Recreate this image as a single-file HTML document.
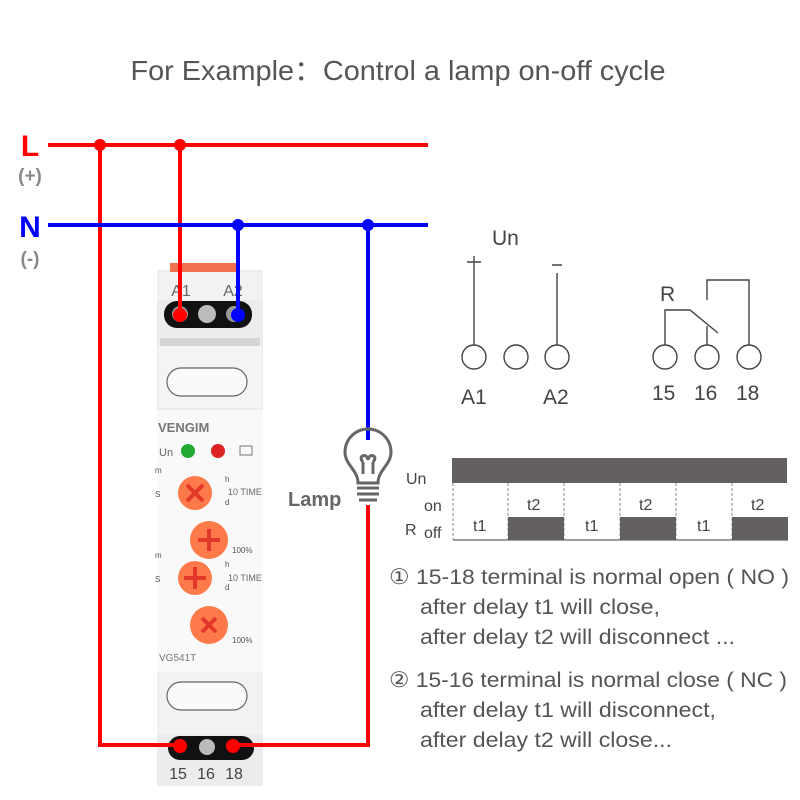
<!DOCTYPE html>
<html><head><meta charset="utf-8"><style>
body{margin:0;background:#fff;width:800px;height:800px;overflow:hidden}
svg{display:block}
text{font-family:"Liberation Sans",sans-serif}
</style></head><body>
<svg width="800" height="800" viewBox="0 0 800 800">
<text x="398" y="80" font-size="28" fill="#555" text-anchor="middle" textLength="535" lengthAdjust="spacingAndGlyphs">For Example：Control a lamp on-off cycle</text>
<text x="30" y="156" font-size="30" font-weight="bold" fill="#f00" text-anchor="middle">L</text>
<text x="30" y="182" font-size="19" font-weight="bold" fill="#888" text-anchor="middle">(+)</text>
<text x="30" y="237" font-size="30" font-weight="bold" fill="#00f" text-anchor="middle">N</text>
<text x="30" y="265" font-size="19" font-weight="bold" fill="#888" text-anchor="middle">(-)</text>

<!-- device -->
<rect x="157" y="270" width="106" height="515" fill="#ececec"/>
<rect x="170" y="263" width="68" height="10" fill="#f07050"/>
<rect x="157" y="272" width="106" height="28" fill="#f2f2f2"/>
<text x="181" y="296" font-size="16" fill="#666" text-anchor="middle">A1</text>
<text x="233" y="296" font-size="16" fill="#666" text-anchor="middle">A2</text>
<rect x="164" y="301" width="88" height="27" rx="13" fill="#111"/>
<circle cx="207" cy="314" r="9" fill="#bbb"/>
<circle cx="180" cy="314" r="8" fill="#999"/>
<circle cx="234" cy="314" r="8" fill="#999"/>
<rect x="160" y="338" width="100" height="8" fill="#d5d5d5"/>
<rect x="158" y="346" width="104" height="62" fill="#f4f4f4"/>
<rect x="167" y="368" width="80" height="28" rx="14" fill="#fafafa" stroke="#666" stroke-width="1.2"/>
<rect x="157" y="410" width="106" height="262" fill="#f9f9f9"/>
<text x="158" y="432" font-size="13" font-weight="bold" fill="#777">VENGIM</text>
<text x="159" y="456" font-size="11" fill="#666">Un</text>
<circle cx="188" cy="451" r="7" fill="#22aa33"/>
<circle cx="218" cy="451" r="7" fill="#dd2222"/>
<rect x="240" y="446" width="12" height="9" fill="none" stroke="#777"/>
<g fill="#ff7a4a">
<circle cx="195" cy="493" r="17"/><circle cx="209" cy="540" r="19"/>
<circle cx="195" cy="578" r="17"/><circle cx="209" cy="625" r="19"/></g>
<g stroke="#e2382a" stroke-width="4">
<path d="M187 485l16 16M203 485l-16 16"/><path d="M198 540h22M209 529v22"/>
<path d="M184 578h22M195 567v22"/><path d="M202 618l14 14M216 618l-14 14"/></g>
<g font-size="8" fill="#555"><text x="155" y="473">m</text><text x="155" y="497">S</text><text x="225" y="482">h</text><text x="225" y="505">d</text>
<text x="155" y="558">m</text><text x="155" y="582">S</text><text x="225" y="567">h</text><text x="225" y="590">d</text>
<text x="232" y="643">100%</text><text x="232" y="553">100%</text></g>
<text x="228" y="495" font-size="9" fill="#666">10 TIME</text>
<text x="228" y="581" font-size="9" fill="#666">10 TIME</text>
<text x="159" y="661" font-size="10" fill="#777">VG541T</text>
<rect x="157" y="672" width="106" height="62" fill="#f2f2f2"/>
<rect x="167" y="682" width="80" height="28" rx="14" fill="#fafafa" stroke="#666" stroke-width="1.2"/>
<rect x="157" y="734" width="106" height="52" fill="#ececec"/>
<rect x="168" y="736" width="86" height="24" rx="12" fill="#111"/>
<circle cx="207" cy="747" r="8" fill="#bbb"/>
<text x="178" y="779" font-size="16" fill="#444" text-anchor="middle">15</text>
<text x="206" y="779" font-size="16" fill="#444" text-anchor="middle">16</text>
<text x="234" y="779" font-size="16" fill="#444" text-anchor="middle">18</text>

<!-- wires -->
<g fill="none" stroke-width="4">
<path d="M48 145H428" stroke="#f00"/>
<path d="M100 145V745H180M180 145V315M233 745H368V505" stroke="#f00"/>
<path d="M48 225H428" stroke="#00f"/>
<path d="M238 225V315M368 225V440" stroke="#00f"/>
</g>
<g fill="#f00"><circle cx="100" cy="145" r="6"/><circle cx="180" cy="145" r="6"/><circle cx="180" cy="315" r="7"/><circle cx="180" cy="746" r="7"/><circle cx="233" cy="746" r="7"/></g>
<g fill="#00f"><circle cx="238" cy="225" r="6"/><circle cx="368" cy="225" r="6"/><circle cx="238" cy="315" r="7"/></g>
<!-- lamp -->
<g fill="none" stroke="#666" stroke-width="3">
<path d="M358 483 C358 470 345 465 345 452 A22 22 0 0 1 391 452 C391 465 378 470 378 483Z"/>
<path d="M363 474v-12M373 474v-12M363 462c-6-6 4-10 5-2c1-8 11-4 5 2"/>
<path d="M357 488h22M357 494h22M359 500h18"/></g>
<text x="288" y="506" font-size="20" font-weight="bold" fill="#666">Lamp</text>

<!-- symbols -->
<g font-size="21" fill="#444"><text x="492" y="245">Un</text>
<text x="461" y="404">A1</text><text x="543" y="404">A2</text>
<text x="660" y="301">R</text>
<text x="652" y="400">15</text><text x="694" y="400">16</text><text x="736" y="400">18</text></g>
<g fill="none" stroke="#444" stroke-width="1.4">
<path d="M467 262h14M474 256v89M552 265h10M557 273v72"/>
<circle cx="474" cy="357" r="12"/><circle cx="516" cy="357" r="12"/><circle cx="557" cy="357" r="12"/>
<circle cx="665" cy="357" r="12"/><circle cx="707" cy="357" r="12"/><circle cx="749" cy="357" r="12"/>
<path d="M665 345V310H690L718 333M707 345V326M749 345V280H707V300"/></g>

<!-- timing -->
<rect x="452" y="458" width="335" height="25" fill="#656060"/>
<g stroke="#888" stroke-width="1" stroke-dasharray="3,2">
<path d="M453 483V540M508 483V540M564 483V540M620 483V540M676 483V540M732 483V540"/></g>
<path d="M453 540H788" stroke="#666" stroke-width="1.2"/>
<g fill="#656060"><rect x="508" y="517" width="56" height="23"/><rect x="620" y="517" width="56" height="23"/><rect x="732" y="517" width="56" height="23"/></g>
<g font-size="16" fill="#444"><text x="406" y="484">Un</text><text x="424" y="511">on</text><text x="405" y="535">R</text><text x="424" y="538">off</text>
<text x="473" y="531">t1</text><text x="585" y="531">t1</text><text x="697" y="531">t1</text>
<text x="527" y="510">t2</text><text x="639" y="510">t2</text><text x="751" y="510">t2</text></g>

<g font-size="21.5" fill="#555" lengthAdjust="spacingAndGlyphs">
<text x="389" y="584" textLength="400" lengthAdjust="spacingAndGlyphs">① 15-18 terminal is normal open ( NO )</text>
<text x="420" y="614" textLength="240" lengthAdjust="spacingAndGlyphs">after delay t1 will close,</text>
<text x="420" y="644" textLength="315" lengthAdjust="spacingAndGlyphs">after delay t2 will disconnect ...</text>
<text x="389" y="687" textLength="398" lengthAdjust="spacingAndGlyphs">② 15-16 terminal is normal close ( NC )</text>
<text x="420" y="717" textLength="296" lengthAdjust="spacingAndGlyphs">after delay t1 will disconnect,</text>
<text x="420" y="747" textLength="252" lengthAdjust="spacingAndGlyphs">after delay t2 will close...</text></g>
</svg>
</body></html>
